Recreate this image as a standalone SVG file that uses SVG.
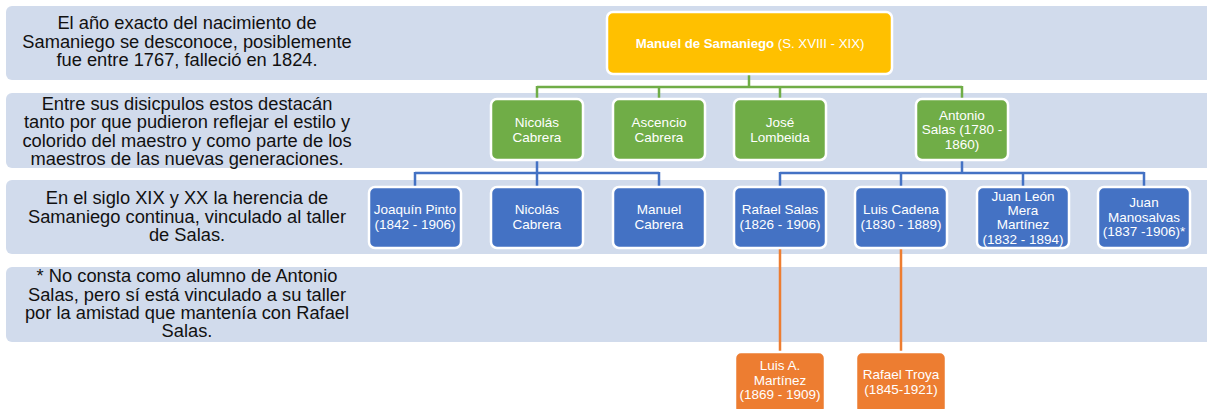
<svg xmlns="http://www.w3.org/2000/svg" width="1207" height="409" viewBox="0 0 1207 409">
<style>
.band{fill:#D1DBEC}
.bt{font-family:"Liberation Sans",Arial,sans-serif;font-size:18.3px;fill:#111;text-anchor:middle}
.nt{font-family:"Liberation Sans",Arial,sans-serif;font-size:13.5px;fill:#fff;text-anchor:middle}
.rt{font-family:"Liberation Sans",Arial,sans-serif;font-size:13.2px;fill:#fff;text-anchor:middle}
.node{stroke:#fff;stroke-width:2.5}
.root{fill:#FFC000}
.g{fill:#70AD47}
.b{fill:#4472C4}
.o{fill:#ED7D31}
.cg{stroke:#70AD47;stroke-width:2.5;fill:none}
.cb{stroke:#4472C4;stroke-width:2.5;fill:none}
.co{stroke:#ED7D31;stroke-width:2.5;fill:none}
</style>
<rect width="1207" height="409" fill="#fff"/>
<g id="bands">
<rect class="band" x="6" y="6" width="1210" height="74" rx="6"/>
<rect class="band" x="6" y="93" width="1210" height="75" rx="6"/>
<rect class="band" x="6" y="180" width="1210" height="74" rx="6"/>
<rect class="band" x="6" y="267" width="1210" height="75" rx="6"/>
</g>
<g id="band-texts">
<text class="bt"><tspan x="187" y="29">El año exacto del nacimiento de</tspan><tspan x="187" y="48">Samaniego se desconoce, posiblemente</tspan><tspan x="187" y="66">fue entre 1767, falleció en 1824.</tspan></text>
<text class="bt"><tspan x="187" y="110">Entre sus disicpulos estos destacán</tspan><tspan x="187" y="128">tanto por que pudieron reflejar el estilo y</tspan><tspan x="187" y="147">colorido del maestro y como parte de los</tspan><tspan x="187" y="165">maestros de las nuevas generaciones.</tspan></text>
<text class="bt"><tspan x="187" y="204">En el siglo XIX y XX la herencia de</tspan><tspan x="187" y="223">Samaniego continua, vinculado al taller</tspan><tspan x="187" y="241">de Salas.</tspan></text>
<text class="bt"><tspan x="187" y="282">* No consta como alumno de Antonio</tspan><tspan x="187" y="301">Salas, pero sí está vinculado a su taller</tspan><tspan x="187" y="319">por la amistad que mantenía con Rafael</tspan><tspan x="187" y="337">Salas.</tspan></text>
</g>
<g id="connectors">
<path class="cg" d="M749 74V87M537 87H962M537 86V99M659 86V99M780 86V99M962 86V99"/>
<path class="cb" d="M537 160V173M415 173H659M415 172V187M537 172V187M659 172V187"/>
<path class="cb" d="M962 160V173M780 173H1144M780 172V187M901 172V187M1023 172V187M1144 172V187"/>
<path class="co" d="M780 248V352M901 248V352"/>
</g>
<g id="root">
<rect class="node root" x="607" y="12" width="285" height="62" rx="6"/>
<text class="rt" x="750" y="48"><tspan font-weight="bold">Manuel de Samaniego</tspan> (S. XVIII - XIX)</text>
</g>
<g id="n-nicolas">
<rect class="node g" x="491" y="99" width="92" height="61" rx="6"/>
<text class="nt"><tspan x="537" y="127">Nicolás</tspan><tspan x="537" y="142">Cabrera</tspan></text>
</g>
<g id="n-ascencio">
<rect class="node g" x="613" y="99" width="92" height="61" rx="6"/>
<text class="nt"><tspan x="659" y="127">Ascencio</tspan><tspan x="659" y="142">Cabrera</tspan></text>
</g>
<g id="n-jose">
<rect class="node g" x="734" y="99" width="92" height="61" rx="6"/>
<text class="nt"><tspan x="780" y="127">José</tspan><tspan x="780" y="142">Lombeida</tspan></text>
</g>
<g id="n-antonio">
<rect class="node g" x="916" y="99" width="92" height="61" rx="6"/>
<text class="nt"><tspan x="962" y="120">Antonio</tspan><tspan x="962" y="134">Salas (1780 -</tspan><tspan x="962" y="149">1860)</tspan></text>
</g>
<g id="n-joaquin">
<rect class="node b" x="369" y="187" width="92" height="61" rx="6"/>
<text class="nt"><tspan x="415" y="214">Joaquín Pinto</tspan><tspan x="415" y="229">(1842 - 1906)</tspan></text>
</g>
<g id="n-nicolas2">
<rect class="node b" x="491" y="187" width="92" height="61" rx="6"/>
<text class="nt"><tspan x="537" y="214">Nicolás</tspan><tspan x="537" y="229">Cabrera</tspan></text>
</g>
<g id="n-manuel">
<rect class="node b" x="613" y="187" width="92" height="61" rx="6"/>
<text class="nt"><tspan x="659" y="214">Manuel</tspan><tspan x="659" y="229">Cabrera</tspan></text>
</g>
<g id="n-rafael-salas">
<rect class="node b" x="734" y="187" width="92" height="61" rx="6"/>
<text class="nt"><tspan x="780" y="214">Rafael Salas</tspan><tspan x="780" y="229">(1826 - 1906)</tspan></text>
</g>
<g id="n-luis-cadena">
<rect class="node b" x="855" y="187" width="92" height="61" rx="6"/>
<text class="nt"><tspan x="901" y="214">Luis Cadena</tspan><tspan x="901" y="229">(1830 - 1889)</tspan></text>
</g>
<g id="n-juan-leon">
<rect class="node b" x="977" y="187" width="92" height="61" rx="6"/>
<text class="nt"><tspan x="1023" y="201">Juan León</tspan><tspan x="1023" y="215">Mera</tspan><tspan x="1023" y="229">Martínez</tspan><tspan x="1023" y="244">(1832 - 1894)</tspan></text>
</g>
<g id="n-juan-manosalvas">
<rect class="node b" x="1098" y="187" width="92" height="61" rx="6"/>
<text class="nt"><tspan x="1144" y="207">Juan</tspan><tspan x="1144" y="222">Manosalvas</tspan><tspan x="1144" y="236">(1837 -1906)*</tspan></text>
</g>
<g id="n-luis-martinez">
<rect class="node o" x="735" y="352" width="90" height="62" rx="6"/>
<text class="nt"><tspan x="780" y="370">Luis A.</tspan><tspan x="780" y="385">Martínez</tspan><tspan x="780" y="399">(1869 - 1909)</tspan></text>
</g>
<g id="n-rafael-troya">
<rect class="node o" x="856" y="352" width="90" height="62" rx="6"/>
<text class="nt"><tspan x="901" y="379">Rafael Troya</tspan><tspan x="901" y="394">(1845-1921)</tspan></text>
</g>
</svg>
